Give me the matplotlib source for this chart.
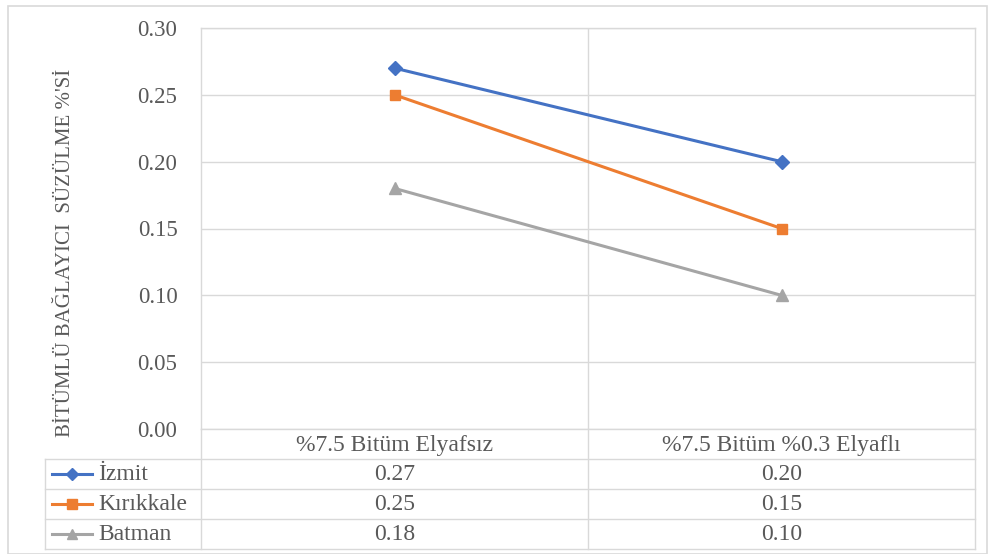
import matplotlib.pyplot as plt
import numpy as np

plt.rcParams['font.family'] = ['Liberation Serif', 'DejaVu Serif']

# ---------------------------------------------------------------------------------

categories = ['%7.5 Bitüm Elyafsız', '%7.5 Bitüm %0.3 Elyaflı']
series = ['İzmit', 'Kırıkkale', 'Batman']
izmit = [0.27, 0.20]
kirikkale = [0.25, 0.15]
batman = [0.18, 0.10]
yticks = [0.00, 0.05, 0.10, 0.15, 0.20, 0.25, 0.30]

values = [izmit, kirikkale, batman]
colors = ['#4472C4', '#ED7D31', '#A5A5A5']
markers = ['D', 's', '^']
msizes = [7, 7, 8]
txt = '#595959'
grid = '#d9d9d9'

W, H = 989, 554

def box(l, t, r, b):
  return [l / W, 1 - b / H, (r - l) / W, (b - t) / H]

fig = plt.figure(figsize=(W / 100, H / 100), dpi=100)

# chart frame
fig.patches.append(plt.Rectangle((8 / W, 0), (987 - 8) / W, 1 - 6 / H, transform=fig.transFigure,
                                 fill=False, ec=grid, lw=1.2))

# ---------------------------------------------------------------------------------
# plot area

ax = fig.add_axes(box(201, 28, 975, 429))
x = np.arange(len(categories))
for vals, c, m, ms in zip(values, colors, markers, msizes):
  ax.plot(x, vals, '-', color=c, lw=2.2, marker=m, markersize=ms, mfc=c, mec=c, zorder=3)

ax.set_xlim(-0.5, len(categories) - 0.5)
ax.set_ylim(yticks[0], yticks[-1])
ax.set_yticks(yticks)
ax.set_yticklabels(['%.2f' % v for v in yticks], fontsize=16.5, color=txt)
ax.set_xticks([])
ax.tick_params(axis='y', length=0, pad=17)
ax.grid(axis='y', color=grid, lw=1)
for xv in x[:-1] + 0.5:
  ax.axvline(xv, color=grid, lw=1, zorder=1)
for s in ax.spines.values():
  s.set_color(grid)
  s.set_linewidth(1)

fig.text(66 / W, 1 - 253 / H, 'BİTÜMLÜ BAĞLAYICI  SÜZÜLME %\'Sİ', rotation=90,
         ha='center', va='center', fontsize=15, color=txt)

# ---------------------------------------------------------------------------------
# data table below the plot

tab = fig.add_axes(box(45, 429, 975, 549))
unit = (975 - 201) / len(categories)
x0 = -0.5 - (201 - 45) / unit
xr = len(categories) - 0.5
nrow = len(series) + 1
tab.set_xlim(x0, xr)
tab.set_ylim(nrow, 0)
tab.axis('off')

lk = dict(color=grid, lw=1, clip_on=False)
for r in range(1, nrow + 1):
  tab.plot([x0, xr], [r, r], **lk)
tab.plot([x0, x0], [1, nrow], **lk)
for xv in np.arange(-0.5, xr + 0.1, 1.0):
  tab.plot([xv, xv], [0, nrow], **lk)

for j, cat in enumerate(categories):
  tab.text(j, 0.55, cat, ha='center', va='center', fontsize=17, color=txt)

for i, (name, vals, c, m) in enumerate(zip(series, values, colors, markers)):
  yc = i + 1.5
  k0 = x0 + 7 / unit
  k1 = x0 + 47 / unit
  tab.plot([k0, k1], [yc, yc], '-', color=c, lw=2.2, clip_on=False)
  tab.plot([(k0 + k1) / 2], [yc], marker=m, color=c, markersize=6.5, clip_on=False)
  tab.text(x0 + 53 / unit, yc + 0.03, name, ha='left', va='center', fontsize=17, color=txt)
  for j, v in enumerate(vals):
    tab.text(j, yc + 0.03, '%.2f' % v, ha='center', va='center', fontsize=17, color=txt)

plt.savefig('out.png', dpi=100)
